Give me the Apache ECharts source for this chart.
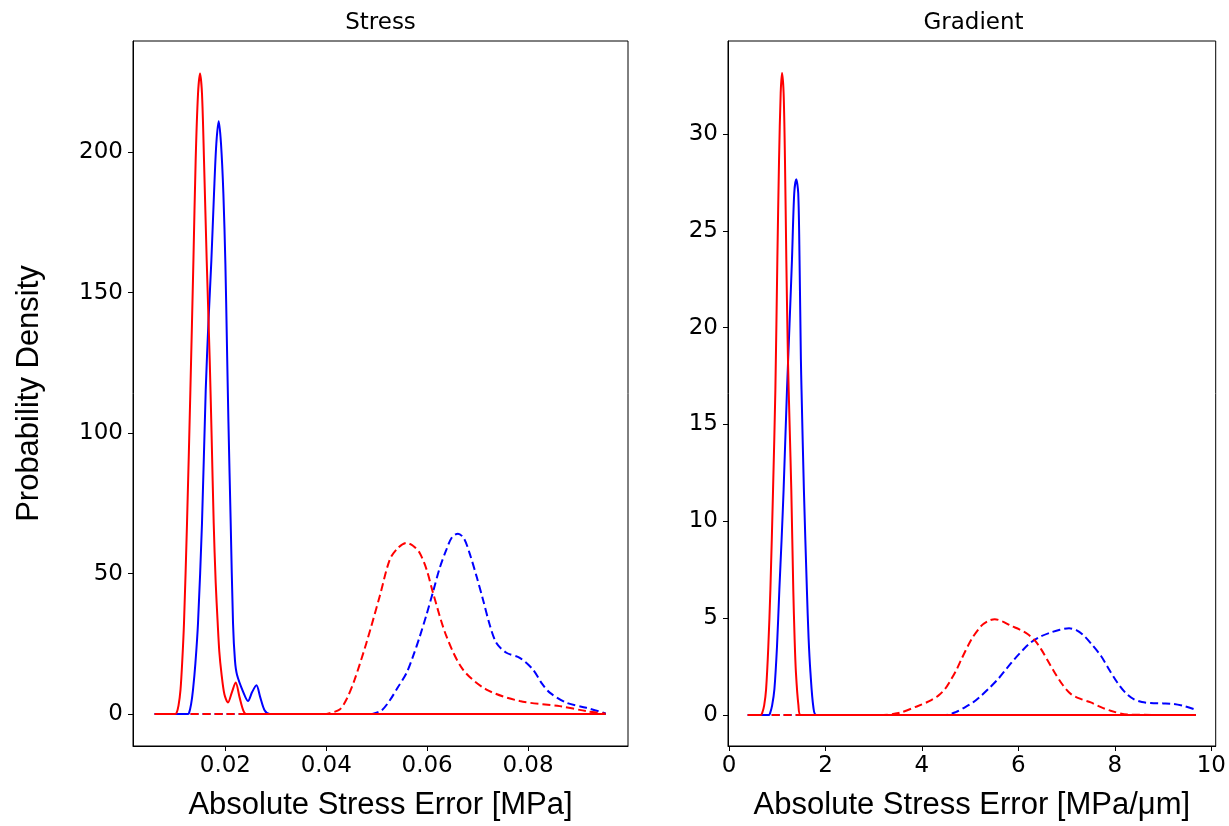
<!DOCTYPE html>
<html><head><meta charset="utf-8">
<script src="https://cdn.jsdelivr.net/npm/echarts@6/dist/echarts.min.js"></script>
<style>html,body{margin:0;padding:0;background:#fff}#c{width:1229px;height:826px}</style>
</head><body><div id="c"></div>
<script>
// ---- Stress panel (x: MPa, y: density) ----
const stressRedSolid = [[0.00598,0],[0.0100,0],[0.0103,0.3],[0.0107,3],[0.0111,8.7],[0.01145,19],[0.01179,32.4],[0.01239,68],[0.01306,115.4],[0.01366,161.6],[0.0141,197],[0.01457,220.8],[0.01497,228],[0.01536,220.8],[0.01576,197],[0.01629,161.6],[0.01689,126],[0.01728,98],[0.01768,68],[0.01807,47],[0.01847,32.4],[0.0188,22],[0.0192,14.7],[0.0198,7],[0.02052,4.1],[0.0213,7.8],[0.02204,11.2],[0.0228,6],[0.0236,1],[0.02416,0],[0.0954,0]];
const stressBlueSolid = [[0.00598,0],[0.0125,0],[0.01278,0.3],[0.0132,3.5],[0.01358,8.7],[0.01405,18],[0.01457,32.4],[0.01536,68],[0.0161,115.4],[0.01665,140],[0.01722,161.6],[0.01774,185.2],[0.0182,203],[0.01867,211],[0.01913,203],[0.0196,185.2],[0.0200,160],[0.0203,132],[0.0206,104],[0.02105,68],[0.02151,32.4],[0.0219,19],[0.0223,14],[0.0235,8],[0.02448,4.6],[0.0253,7.8],[0.02615,10.2],[0.0269,6],[0.0278,1.2],[0.02878,0],[0.0954,0]];
const stressRedDashed = [[0.00598,0],[0.0400,0],[0.0407,0.3],[0.04267,1.6],[0.0441,5.5],[0.04564,12.3],[0.04796,25.3],[0.0506,41.9],[0.05258,54.9],[0.0542,59.1],[0.05589,60.9],[0.0572,59.9],[0.05853,57.3],[0.0599,51.4],[0.06117,43.1],[0.06382,27.7],[0.06711,15.8],[0.07176,8.7],[0.07836,4.6],[0.0863,2.8],[0.09158,1.0],[0.0954,0.1]];
const stressBlueDashed = [[0.00598,0],[0.0490,0],[0.0493,0.1],[0.0510,1.3],[0.05258,4.8],[0.0542,9.5],[0.05589,14.5],[0.0572,20.5],[0.05853,27.5],[0.0599,35.5],[0.06117,43.5],[0.0625,52],[0.06382,58.5],[0.06495,63],[0.06612,64.2],[0.0673,62.5],[0.06846,57],[0.0698,49],[0.07108,40.7],[0.07245,31.5],[0.07374,25.3],[0.07572,21.8],[0.07836,20.0],[0.081,15.8],[0.0827,11],[0.08431,7.6],[0.08762,4.0],[0.09158,2.2],[0.0954,0.2]];
const stressXTicks = [0.02,0.04,0.06,0.08];
const stressYTicks = [0,50,100,150,200];

// ---- Gradient panel (x: MPa/um, y: density) ----
const gradRedSolid = [[0.39,0],[0.66,0],[0.688,0.1],[0.73,0.5],[0.77,1.34],[0.815,3.5],[0.859,6.5],[0.914,11.65],[0.962,16.8],[1.003,23.5],[1.038,28.66],[1.072,32.1],[1.10,33.15],[1.133,32.1],[1.161,28.66],[1.189,23.5],[1.223,18.35],[1.257,15],[1.292,11.65],[1.333,6.5],[1.36,4],[1.388,2.2],[1.44,0.5],[1.49,0],[9.68,0]];
const gradBlueSolid = [[0.39,0],[0.83,0],[0.853,0.1],[0.895,0.5],[0.942,1.34],[0.995,3.5],[1.045,6.5],[1.09,9],[1.133,11.65],[1.203,16.8],[1.256,20.2],[1.306,23.5],[1.353,26.94],[1.395,27.66],[1.436,26.94],[1.463,23.5],[1.491,18.35],[1.504,16.8],[1.553,11.65],[1.615,6.5],[1.65,4],[1.689,2.2],[1.75,0.4],[1.813,0],[9.68,0]];
const gradRedDashed = [[0.39,0],[3.1,0],[3.515,0.1],[3.93,0.48],[4.14,0.7],[4.34,1.0],[4.48,1.35],[4.61,1.86],[4.72,2.35],[4.82,2.89],[5.03,3.92],[5.23,4.6],[5.37,4.85],[5.51,4.95],[5.68,4.82],[5.85,4.6],[6.02,4.42],[6.19,4.18],[6.34,3.85],[6.47,3.4],[6.61,2.8],[6.75,2.2],[6.92,1.55],[7.09,1.08],[7.3,0.82],[7.5,0.65],[7.7,0.42],[7.91,0.22],[8.26,0.02],[9.68,0]];
const gradBlueDashed = [[0.39,0],[4.48,0],[4.7,0.15],[4.89,0.4],[5.06,0.65],[5.23,1.0],[5.4,1.4],[5.58,1.86],[5.75,2.38],[5.92,2.89],[6.09,3.35],[6.26,3.75],[6.46,4.05],[6.67,4.26],[6.86,4.4],[7.05,4.48],[7.2,4.38],[7.36,4.09],[7.53,3.62],[7.71,3.06],[7.88,2.35],[8.05,1.68],[8.22,1.15],[8.39,0.82],[8.56,0.67],[8.74,0.62],[9.0,0.6],[9.22,0.57],[9.45,0.45],[9.68,0.27]];
const gradXTicks = [0,2,4,6,8,10];
const gradYTicks = [0,5,10,15,20,25,30];

const titles = ['Stress','Gradient'];
const xNames = ['Absolute Stress Error [MPa]','Absolute Stress Error [MPa/\u03bcm]'];
const yName = 'Probability Density';

const tickFont = {fontFamily:'DejaVu Sans', fontSize:23, color:'#000'};
const nameFont = {fontFamily:'Liberation Sans', fontSize:31, color:'#000'};

function xAxis(grid, min, max, ticks, fmt, name){
  return {type:'value', gridIndex:grid, min, max, name, nameLocation:'middle', nameGap:44,
    nameTextStyle:nameFont,
    axisLine:{show:true, onZero:false, lineStyle:{color:'#000', width:1}},
    axisTick:{show:true, inside:false, length:5, customValues:ticks, lineStyle:{color:'#000', width:1}},
    axisLabel:Object.assign({customValues:ticks, formatter:fmt, margin:9}, tickFont),
    splitLine:{show:false}};
}
function yAxis(grid, min, max, ticks, name){
  const a = {type:'value', gridIndex:grid, min, max,
    axisLine:{show:true, onZero:false, lineStyle:{color:'#000', width:1}},
    axisTick:{show:true, inside:false, length:5, customValues:ticks, lineStyle:{color:'#000', width:1}},
    axisLabel:Object.assign({customValues:ticks, formatter:v=>String(v), margin:10}, tickFont),
    splitLine:{show:false}};
  if (name){ a.name=name; a.nameLocation='middle'; a.nameGap=88; a.nameTextStyle=nameFont; }
  return a;
}
function line(data, color, dashed, xi, yi){
  return {type:'line', data, xAxisIndex:xi, yAxisIndex:yi, showSymbol:false, symbol:'none',
    smooth:0.3, lineStyle:{color, width:2, type: dashed ? [8,4] : 'solid'}, itemStyle:{color},
    silent:true, animation:false};
}

const chart = echarts.init(document.getElementById('c'), null, {renderer:'canvas'});
chart.setOption({
  animation:false,
  backgroundColor:'#fff',
  graphic:[
    {type:'text', x:380.5, y:23, style:{text:titles[0], fill:'#000', font:'23px "DejaVu Sans"', textAlign:'center', textVerticalAlign:'middle'}},
    {type:'text', x:973.5, y:23, style:{text:titles[1], fill:'#000', font:'23px "DejaVu Sans"', textAlign:'center', textVerticalAlign:'middle'}}
  ],
  grid:[
    {left:133, top:41, width:495, height:709, show:true, borderColor:'#000', borderWidth:1, containLabel:false},
    {left:728, top:41, width:491, height:709, show:true, borderColor:'#000', borderWidth:1, containLabel:false}
  ],
  xAxis:[
    xAxis(0, 0.001678, 0.09983, stressXTicks, v=>v.toFixed(2), xNames[0]),
    xAxis(1, -0.02, 10.09, gradXTicks, v=>String(v), xNames[1])
  ],
  yAxis:[
    yAxis(0, -11.4, 239.6, stressYTicks, yName),
    yAxis(1, -1.6, 34.8, gradYTicks, null)
  ],
  series:[
    line(stressBlueDashed,'#0000ff',true,0,0),
    line(stressRedDashed,'#ff0000',true,0,0),
    line(stressBlueSolid,'#0000ff',false,0,0),
    line(stressRedSolid,'#ff0000',false,0,0),
    line(gradBlueDashed,'#0000ff',true,1,1),
    line(gradRedDashed,'#ff0000',true,1,1),
    line(gradBlueSolid,'#0000ff',false,1,1),
    line(gradRedSolid,'#ff0000',false,1,1)
  ]
});
</script>
</body></html>
